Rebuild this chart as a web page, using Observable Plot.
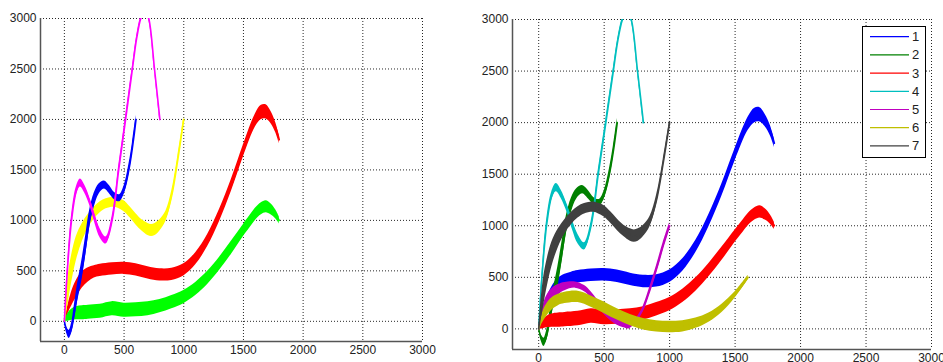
<!DOCTYPE html>
<html><head><meta charset="utf-8">
<script src="https://cdn.jsdelivr.net/npm/d3@7"></script>
<script src="https://cdn.jsdelivr.net/npm/@observablehq/plot@0.6"></script>
<style>
body{margin:0;background:#fff;width:943px;height:362px;overflow:hidden;position:relative;font-family:"Liberation Sans",Arial,sans-serif}
#left{position:absolute;left:0;top:0}
#right{position:absolute;left:470px;top:0}
#legend{position:absolute;left:862px;top:26px}
</style></head><body>
<div id="left"></div><div id="right"></div><div id="legend"></div>
<script>
// ---- data ----
const xTicks = [0, 500, 1000, 1500, 2000, 2500, 3000];
const yTicks = [0, 500, 1000, 1500, 2000, 2500, 3000];
const seriesNames = ["1", "2", "3", "4", "5", "6", "7"];
const rightColors = ["#0000ff", "#008000", "#ff0000", "#00bfbf", "#bf00bf", "#bfbf00", "#404040"];
const leftCurves = ["1", "3", "7", "2", "4"];
const leftColors = ["#ff0000", "#00ff00", "#ffff00", "#0000ff", "#ff00ff"];

// curve 1 (x, centre y, half spread of the bundle)
const c1x = [0, 30, 60, 100, 150, 200, 250, 300, 400, 500, 600, 700, 800, 900, 1000, 1100, 1200, 1300, 1400, 1500, 1600, 1650, 1690, 1730, 1770, 1800];
const c1y = [0, 120, 220, 320, 410, 460, 490, 505, 520, 525, 510, 480, 460, 465, 510, 620, 800, 1050, 1350, 1690, 1990, 2070, 2075, 2020, 1920, 1800];
const c1s = [0, 40, 70, 85, 80, 70, 60, 60, 60, 60, 60, 60, 60, 60, 60, 60, 60, 60, 60, 60, 65, 70, 70, 60, 50, 40];
// curve 2
const c2x = [0, 20, 40, 60, 80, 110, 146, 180, 210, 250, 290, 335, 380, 420, 463, 500, 540, 570, 600];
const c2y = [0, -90, -130, -70, 60, 280, 500, 760, 1000, 1200, 1310, 1350, 1300, 1240, 1220, 1300, 1500, 1720, 2000];
const c2s = [0, 30, 40, 50, 70, 90, 100, 100, 90, 70, 50, 40, 40, 35, 35, 40, 50, 50, 40];
// curve 3
const c3x = [0, 30, 60, 100, 150, 200, 300, 400, 500, 600, 700, 800, 900, 1000, 1100, 1200, 1300, 1400, 1500, 1550, 1600, 1650, 1690, 1730, 1770, 1800];
const c3y = [0, 40, 65, 80, 85, 90, 100, 125, 110, 115, 125, 150, 190, 240, 320, 430, 570, 730, 900, 980, 1060, 1115, 1135, 1110, 1060, 1000];
const c3s = [0, 40, 55, 65, 70, 70, 70, 70, 70, 70, 70, 65, 65, 65, 65, 65, 65, 65, 60, 60, 60, 60, 60, 55, 45, 35];
// curve 4
const c4x = [0, 25, 60, 100, 134, 170, 220, 260, 300, 348, 400, 455, 513, 570, 605, 640, 675, 707, 755, 800];
const c4y = [0, 500, 1000, 1290, 1370, 1310, 1160, 1000, 870, 800, 1000, 1500, 2000, 2500, 2800, 3000, 3090, 3000, 2500, 2000];
const c4s = [0, 40, 50, 40, 40, 40, 40, 45, 45, 35, 40, 40, 35, 30, 25, 20, 20, 20, 20, 20];
// curve 5
const c5x = [0, 30, 60, 100, 150, 200, 280, 350, 400, 450, 500, 550, 600, 650, 690, 730, 770, 800, 850, 900, 950, 1000];
const c5y = [0, 150, 250, 330, 380, 410, 425, 390, 330, 250, 170, 110, 65, 35, 25, 60, 130, 200, 380, 580, 800, 1000];
const c5s = [0, 60, 70, 60, 50, 40, 30, 30, 30, 30, 30, 30, 30, 25, 25, 20, 20, 25, 30, 35, 35, 30];
// curve 6
const c6x = [0, 30, 60, 100, 150, 200, 300, 400, 500, 600, 700, 800, 900, 1000, 1100, 1200, 1300, 1400, 1500, 1600];
const c6y = [0, 110, 180, 240, 280, 300, 310, 265, 205, 140, 85, 45, 25, 18, 25, 55, 110, 200, 330, 500];
const c6s = [0, 50, 60, 60, 55, 55, 55, 55, 55, 55, 55, 55, 55, 55, 55, 50, 45, 40, 30, 20];
// curve 7
const c7x = [0, 25, 50, 100, 150, 200, 250, 300, 350, 412, 450, 500, 550, 600, 650, 700, 730, 760, 800, 850, 900, 950, 1000];
const c7y = [0, 250, 450, 720, 880, 990, 1070, 1130, 1165, 1180, 1170, 1140, 1080, 1010, 950, 910, 900, 910, 950, 1040, 1250, 1600, 2000];
const c7s = [0, 120, 140, 120, 90, 70, 60, 55, 50, 50, 50, 55, 55, 55, 55, 60, 60, 60, 55, 50, 45, 35, 25];

const curveX = {"1": c1x, "2": c2x, "3": c3x, "4": c4x, "5": c5x, "6": c6x, "7": c7x};
const curveY = {"1": c1y, "2": c2y, "3": c3y, "4": c4y, "5": c5y, "6": c6y, "7": c7y};
const curveS = {"1": c1s, "2": c2s, "3": c3s, "4": c4s, "5": c5s, "6": c6s, "7": c7s};

function rows(name) {
  return curveX[name].map((x, i) => ({x, y: curveY[name][i], s: curveS[name][i]}));
}

function panel(names, colors, m) {
  const marks = [
    Plot.gridX(xTicks, {stroke: "#000", strokeOpacity: 0.85, strokeDasharray: "1,2"}),
    Plot.gridY(yTicks, {stroke: "#000", strokeOpacity: 0.85, strokeDasharray: "1,2"})
  ];
  names.forEach((n, i) => {
    const data = rows(n);
    marks.push(Plot.areaY(data, {x: "x", y1: d => d.y - d.s, y2: d => d.y + d.s, fill: colors[i], curve: "catmull-rom", clip: true}));
    marks.push(Plot.line(data, {x: "x", y: "y", stroke: colors[i], strokeWidth: 1.6, curve: "catmull-rom", clip: true}));
  });
  marks.push(Plot.ruleX([-200], {stroke: "#555", strokeWidth: 1.5}));
  marks.push(Plot.ruleY([-200], {stroke: "#555", strokeWidth: 1.5}));
  marks.push(Plot.axisX(xTicks, {tickSize: 0, tickPadding: 4, fill: "#222", tickFormat: d => String(d), label: null}));
  marks.push(Plot.axisY(yTicks, {tickSize: 0, tickPadding: 4, fill: "#222", tickFormat: d => String(d), label: null}));
  return Plot.plot({
    width: m.width, height: 362,
    marginLeft: m.left, marginRight: m.right, marginTop: m.top, marginBottom: m.bottom,
    x: {domain: [-200, 3000], label: null},
    y: {domain: [-200, 3000], label: null},
    style: {fontFamily: '"Liberation Sans",Arial,sans-serif', fontSize: "12px", background: "#fff", overflow: "visible"},
    marks
  });
}

document.getElementById("left").appendChild(
  panel(leftCurves, leftColors, {width: 430, left: 40, right: 8, top: 18, bottom: 21}));
document.getElementById("right").appendChild(
  panel(seriesNames, rightColors, {width: 473, left: 42, right: 12, top: 19, bottom: 13}));

// legend
const lg = d3.select("#legend").append("svg").attr("width", 64).attr("height", 132);
lg.append("rect").attr("x", 0.5).attr("y", 0.5).attr("width", 63).attr("height", 131)
  .attr("fill", "#fff").attr("stroke", "#000").attr("stroke-width", 1);
seriesNames.forEach((n, i) => {
  const y = 10.7 + i * 18.2;
  lg.append("line").attr("x1", 8).attr("x2", 47).attr("y1", y).attr("y2", y)
    .attr("stroke", rightColors[i]).attr("stroke-width", 1.2);
  lg.append("text").attr("x", 50).attr("y", y).attr("dy", "0.35em")
    .attr("font-size", 13).attr("font-family", '"Liberation Sans",Arial,sans-serif')
    .attr("fill", "#222").text(n);
});
</script>
</body></html>
